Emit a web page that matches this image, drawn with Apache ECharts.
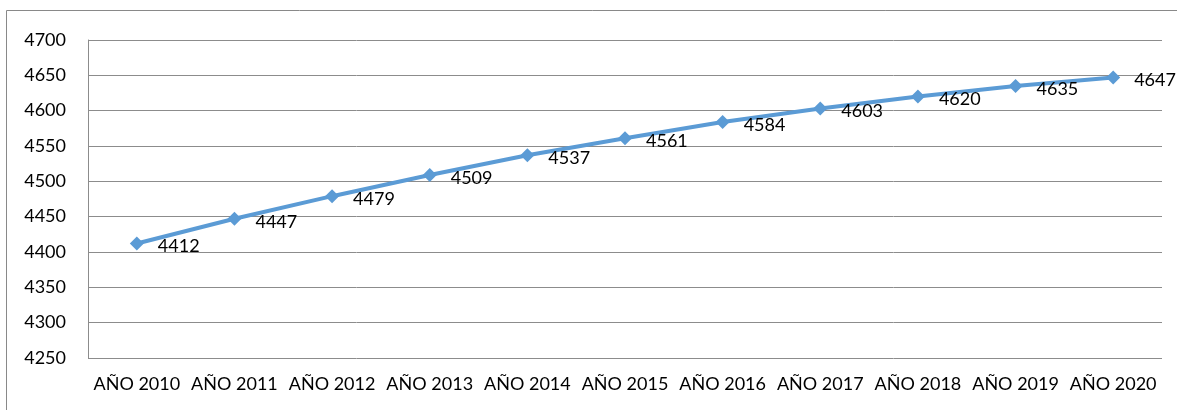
<!DOCTYPE html>
<html>
<head>
<meta charset="utf-8">
<script src="https://cdn.jsdelivr.net/npm/echarts@6/dist/echarts.min.js"></script>
<style>
  html, body { margin: 0; padding: 0; background: #fff; }
  #chart { width: 1177px; height: 410px; }
</style>
</head>
<body>
<div id="chart"></div>
<script>
  var years = ['AÑO 2010', 'AÑO 2011', 'AÑO 2012', 'AÑO 2013', 'AÑO 2014', 'AÑO 2015',
               'AÑO 2016', 'AÑO 2017', 'AÑO 2018', 'AÑO 2019', 'AÑO 2020'];
  var values = [4412, 4447, 4479, 4509, 4537, 4561, 4584, 4603, 4620, 4635, 4647];

  var chart = echarts.init(document.getElementById('chart'));
  var option = {
    animation: false,
    graphic: [{
      type: 'rect',
      shape: { x: 6.5, y: 10.5, width: 1180, height: 410 },
      style: { fill: 'none', stroke: '#898989', lineWidth: 1 },
      silent: true
    }],
    grid: { left: 88, right: 15, top: 40, bottom: 52 },
    xAxis: {
      type: 'category',
      data: years,
      boundaryGap: true,
      axisLine: { show: false },
      axisTick: { show: false },
      axisLabel: { color: '#000', fontFamily: 'Lato', fontSize: 18, margin: 17, interval: 0 }
    },
    yAxis: {
      type: 'value',
      min: 4250,
      max: 4700,
      interval: 50,
      axisLine: { show: true, lineStyle: { color: '#8c8c8c', width: 1 } },
      axisTick: { show: false },
      axisLabel: {
        color: '#000', fontFamily: 'Lato', fontSize: 18, margin: 22,
        formatter: function (v) { return String(v); }
      },
      splitLine: { lineStyle: { color: '#8c8c8c', width: 1 } }
    },
    series: [{
      type: 'line',
      data: values,
      symbol: 'diamond',
      symbolSize: 14,
      lineStyle: { color: '#5B9BD5', width: 4 },
      itemStyle: { color: '#5B9BD5' },
      label: {
        show: true,
        position: 'right',
        distance: 14,
        offset: [0, 3],
        color: '#000',
        fontFamily: 'Lato',
        fontSize: 18
      }
    }]
  };
  chart.setOption(option);
</script>
</body>
</html>
